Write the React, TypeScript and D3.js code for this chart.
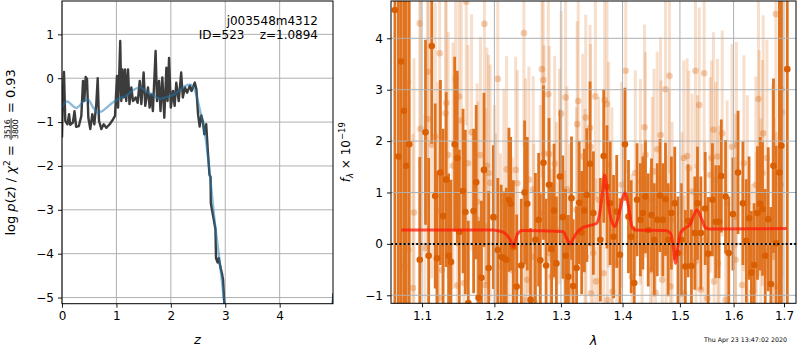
import React, { useRef, useEffect } from 'react';
import * as d3 from 'd3';

// ---- left panel: log p(z) ----
const pzZ = [0, 0.018, 0.037, 0.06, 0.1, 0.13, 0.15, 0.2, 0.23, 0.26, 0.31, 0.355, 0.386, 0.41, 0.435, 0.46, 0.484, 0.52, 0.557, 0.594,
  0.63, 0.656, 0.68, 0.723, 0.766, 0.815, 0.876, 0.937, 0.974, 1.01, 1.03, 1.048, 1.07, 1.09, 1.11, 1.134, 1.158, 1.18, 1.213, 1.24,
  1.274, 1.305, 1.354, 1.39, 1.428, 1.458, 1.5, 1.53, 1.58, 1.61, 1.64, 1.67, 1.72, 1.746, 1.783, 1.81, 1.844, 1.88, 1.918, 1.94,
  1.967, 2.0, 2.04, 2.07, 2.1, 2.145, 2.19, 2.22, 2.26, 2.3, 2.35, 2.38, 2.41, 2.44, 2.47, 2.5, 2.53, 2.56, 2.59, 2.616,
  2.65, 2.68, 2.71, 2.73, 2.735, 2.8, 2.82, 2.83, 2.86, 2.88, 2.91, 2.94, 2.96, 2.985, 3.0, 4.95, 4.99];
const pzLog = [-1.35, -0.29, 0.14, -0.97, -1.05, -0.82, -1.06, -1.01, -0.75, -1.11, -1.09, -0.86, -0.06, -0.52, 0.03, -0.02, -0.9, -1.16, -0.82, -1.05,
  -0.59, 0.0, -0.97, -1.16, -1.05, -1.13, -1.05, -0.94, -0.86, 0.05, -0.67, -0.06, 0.85, -0.52, 0.2, -0.44, 0.2, -0.52, 0.2, -0.59,
  -0.21, -0.52, -0.44, -0.56, -0.06, -0.59, 0.13, -0.63, -0.21, -0.67, -0.37, -0.75, 0.62, -0.52, -0.06, -0.75, 0.02, -0.9, 0.24, -0.52,
  0.46, -0.67, -0.29, -0.63, -0.1, -0.52, 0.13, -0.44, -0.21, -0.33, -0.17, -0.29, -0.2, -0.1, -0.25, -0.82, -1.1, -0.85, -1.0, -1.28,
  -1.05, -1.66, -2.2, -2.25, -2.85, -3.3, -3.45, -4.1, -4.2, -4.1, -4.3, -4.45, -4.6, -5.2, -5.6, -5.6, -4.9];

const pzSmoothZ = [0, 0.05, 0.1, 0.17, 0.26, 0.32, 0.4, 0.48, 0.57, 0.66, 0.75, 0.85, 0.94, 1.06, 1.18, 1.31, 1.43, 1.55, 1.67, 1.74,
  1.8, 1.92, 2.04, 2.16, 2.26, 2.35, 2.44, 2.53, 2.62, 2.71, 2.8, 2.9, 3.0, 3.05, 4.95, 4.99];
const pzSmoothLog = [-0.67, -0.56, -0.53, -0.6, -0.68, -0.63, -0.52, -0.49, -0.66, -0.79, -0.74, -0.64, -0.55, -0.46, -0.4, -0.27, -0.21, -0.3, -0.38, -0.44,
  -0.47, -0.43, -0.38, -0.28, -0.18, -0.15, -0.27, -0.7, -1.2, -2.1, -3.2, -4.2, -5.3, -5.8, -5.6, -4.9];

// ---- right panel: spectrum (flux in 1e-19) ----
const specWave = [1.0647, 1.0692, 1.0726, 1.0762, 1.0792, 1.0832, 1.097, 1.1046, 1.1088, 1.1129,
  1.1176, 1.1199, 1.1246, 1.1282, 1.1324, 1.1357, 1.1389, 1.144, 1.1476, 1.1504,
  1.1556, 1.1588, 1.1629, 1.1704, 1.174, 1.1774, 1.1815, 1.1851, 1.1917, 1.1986,
  1.2049, 1.2099, 1.2138, 1.2173, 1.2212, 1.2237, 1.2277, 1.2326, 1.2395, 1.2444,
  1.2484, 1.2533, 1.2607, 1.2656, 1.2681, 1.273, 1.277, 1.2815, 1.2855, 1.2893,
  1.2929, 1.2988, 1.3029, 1.3073, 1.3117, 1.3166, 1.3192, 1.3247, 1.3289, 1.3328,
  1.3371, 1.341, 1.3463, 1.3517, 1.3631, 1.3686, 1.374, 1.3793, 1.3849, 1.3902,
  1.3956, 1.404, 1.41, 1.4146, 1.4198, 1.4246, 1.4303, 1.4346, 1.4391, 1.4439,
  1.4496, 1.4544, 1.4596, 1.4644, 1.4696, 1.4742, 1.4789, 1.4847, 1.4907, 1.4965,
  1.5024, 1.5098, 1.5148, 1.5209, 1.5272, 1.532, 1.5383, 1.5463, 1.5519, 1.5598,
  1.5661, 1.5722, 1.5765, 1.5846, 1.5907, 1.5987, 1.6086, 1.618, 1.6246, 1.63,
  1.6346, 1.64, 1.6466, 1.652, 1.6566, 1.662, 1.668, 1.6734, 1.6786, 1.684,
  1.6906, 1.6946, 1.7067];
const specFlux = [4.55, 1.7, 3.55, 2.59, 1.52, 1.94, -0.31, 2.17, -0.23, 3.85,
  0.93, -0.28, 1.39, 0.54, 1.25, -0.23, -0.35, 1.94, 1.67, 0.23,
  1.03, 0.62, -1.15, 0.64, 1.2, -1.05, -0.66, 1.44, -0.47, 0.52,
  -0.12, -0.25, -0.28, -0.31, 0.86, 0.78, -0.06, -0.83, -0.42, 1.0,
  0.78, -1.09, 0.08, 0.47, -0.32, 1.58, -0.42, 1.15, -0.1, 0.65,
  -0.38, 1.31, 0.52, -0.23, -0.64, 0.89, -0.82, -0.47, 0.8, 0.22,
  0.65, 0.95, 1.56, 0.6, 0.08, 1.71, 1.11, 0.79, 0.14, 0.63,
  -0.21, 1.94, 0.53, 0.14, -0.76, 0.86, 0.47, 0.6, 0.92, 0.27,
  0.56, 0.08, 0.47, 0.94, 0.47, 0.87, 0.08, 0.6, 0.79, -0.18,
  0.08, -0.44, 0.45, -0.43, 0.21, 0.79, 0.21, 0.69, -0.19, 0.86,
  0.43, 0.43, 1.32, 0.92, -0.18, 0.58, 1.39, 0.79, 0.06, 0.5,
  -0.56, -0.41, 0.6, 0.78, 0.68, -0.23, 0.48, -0.78, 1.52, 0.01,
  1.39, 1.91, 3.4];
const specErr = [6, 6, 6, 6, 6, 5, 2.0, 1.8, 1.9, 1.9,
  1.8, 1.7, 1.8, 1.7, 1.7, 1.6, 1.6, 1.7, 1.7, 1.6,
  1.6, 1.6, 1.6, 1.6, 1.5, 1.5, 1.5, 1.5, 1.5, 1.4,
  1.4, 1.4, 1.3, 1.4, 1.4, 1.3, 1.3, 1.4, 1.3, 1.4,
  1.3, 1.4, 1.3, 1.3, 1.3, 1.5, 1.3, 1.3, 1.3, 1.3,
  1.3, 1.3, 1.2, 1.3, 1.2, 1.2, 1.3, 1.2, 1.2, 1.2,
  1.2, 1.3, 1.6, 1.2, 1.2, 1.3, 1.2, 1.2, 1.2, 1.1,
  1.1, 1.1, 1.1, 1.1, 1.1, 1.1, 1.1, 1.1, 1.1, 1.1,
  1.1, 1.1, 1.1, 1.1, 1.1, 1.1, 1.1, 1.1, 1.1, 1.1,
  1.1, 1.1, 1.1, 1.1, 1.1, 1.1, 1.1, 1.1, 1.1, 1.1,
  1.1, 1.1, 1.1, 1.1, 1.1, 1.1, 1.2, 1.2, 1.2, 1.2,
  1.2, 1.2, 1.3, 1.3, 1.3, 1.3, 1.4, 1.5, 1.7, 1.9,
  8, 8, 8];

// faint points (other beams)
const beamWave = [1.0771, 1.0815, 1.0821, 1.0881, 1.0894, 1.097, 1.098, 1.1038, 1.1074, 1.1083,
  1.1129, 1.1176, 1.1213, 1.1222, 1.1236, 1.1268, 1.1315, 1.1326, 1.1351, 1.1417,
  1.1454, 1.1476, 1.15, 1.1532, 1.1569, 1.1601, 1.1625, 1.1676, 1.1754, 1.1764,
  1.1801, 1.1857, 1.1868, 1.1875, 1.1893, 1.1917, 1.194, 1.2, 1.2015, 1.2049,
  1.2089, 1.2138, 1.2178, 1.2212, 1.2262, 1.2311, 1.2336, 1.2422, 1.2434, 1.2459,
  1.2484, 1.2508, 1.2573, 1.2582, 1.2592, 1.2681, 1.2706, 1.2726, 1.2741, 1.2804,
  1.2819, 1.2829, 1.2855, 1.2903, 1.2929, 1.2977, 1.3003, 1.3057, 1.3073, 1.3094,
  1.3138, 1.3146, 1.3244, 1.3257, 1.3273, 1.3345, 1.3382, 1.3393, 1.3398, 1.3463,
  1.3472, 1.348, 1.3512, 1.355, 1.3561, 1.3605, 1.3686, 1.3702, 1.374, 1.3748,
  1.3767, 1.3821, 1.3829, 1.3902, 1.3984, 1.4053, 1.4158, 1.4216, 1.4303, 1.4333,
  1.4374, 1.4391, 1.4479, 1.4509, 1.4538, 1.4567, 1.4596, 1.4654, 1.4663, 1.4684,
  1.4742, 1.4751, 1.4802, 1.4812, 1.483, 1.4859, 1.5037, 1.5069, 1.5074, 1.513,
  1.5161, 1.5222, 1.5283, 1.5291, 1.532, 1.5352, 1.5383, 1.5444, 1.5454, 1.5506,
  1.5556, 1.558, 1.5617, 1.563, 1.5661, 1.5691, 1.57, 1.5722, 1.5783, 1.5846,
  1.5876, 1.5969, 1.6034, 1.604, 1.6054, 1.6166, 1.62, 1.6266, 1.6366, 1.6434,
  1.644, 1.6486, 1.65, 1.6534, 1.6566, 1.658, 1.6654, 1.6766, 1.68, 1.6834,
  1.6844, 1.6934, 1.6946, 1.696];
const beamFlux = [-0.44, 3.14, -0.12, -0.86, 0.61, 4.29, 2.24, -0.08, 2.43, 3.35,
  1.93, 2.09, 0.65, -1.06, 3.71, -0.51, 2.54, 2.74, 1.73, 1.52,
  3.21, -0.81, 2.87, 2.4, -0.76, 4.71, 1.57, 2.17, 0.82, 0.47,
  1.73, 4.28, -0.8, 0.34, 1.52, 1.38, 1.19, 0.5, -0.05, 3.21,
  -0.44, 0.82, 1.45, 0.01, -0.52, 1.44, 1.18, -1.09, 4.1, 1.02,
  -0.7, 1.25, 1.06, -0.25, -1.12, 0.6, 3.4, 3.19, 1.76, 2.91,
  1.75, -0.18, -0.64, 1.56, 0.27, 1.31, 2.53, -0.57, 2.85, 1.06,
  -0.05, -0.93, 0.66, 2.33, 2.78, 1.7, 0.63, 2.46, -0.25, 2.26,
  1.89, -0.96, -0.18, 2.87, -0.73, 0.86, -0.57, 2.8, 2.72, -1.09,
  1.54, 0.66, -0.93, -0.38, 1.15, 3.37, -0.64, 1.38, 1.21, -0.05,
  2.27, 1.73, -0.51, 0.86, 1.41, -0.95, 1.84, 2.12, 1.28, -0.7,
  3.01, -0.18, 1.08, 3.27, -0.83, 0.47, 0.27, 1.67, -0.96, 1.71,
  1.47, 1.02, 3.37, -0.34, 0.99, 2.7, -0.89, 3.32, 0.08, -1.06,
  1.34, 1.67, 2.22, -0.73, 1.25, 1.7, -0.38, 0.4, 2.15, -1.09,
  0.79, 1.89, 0.53, -0.31, 1.93, -0.8, 1.57, 0.79, -0.93, 1.15,
  -0.41, 2.82, 1.57, 0.24, 1.38, 2.15, 1.67, 0.6, -0.25, 4.47,
  -0.83, 1.15, 3.01, 2.56];
const beamErr = [3.2, 3.2, 3.2, 3.0, 3.0, 2.8, 2.8, 2.6, 2.6, 2.6,
  2.6, 2.6, 2.5, 2.5, 2.5, 2.5, 2.5, 2.5, 2.4, 2.4,
  2.4, 2.4, 2.4, 2.4, 2.4, 2.4, 2.3, 2.3, 2.3, 2.3,
  2.3, 2.3, 2.3, 2.3, 2.3, 2.3, 2.3, 2.2, 2.2, 2.2,
  2.2, 2.2, 2.2, 2.2, 2.2, 2.2, 2.2, 2.2, 2.2, 2.2,
  2.2, 2.2, 2.2, 2.2, 2.2, 2.1, 2.1, 2.1, 2.1, 2.1,
  2.1, 2.1, 2.1, 2.1, 2.1, 2.1, 2.0, 2.0, 2.0, 2.0,
  2.0, 2.0, 2.0, 2.0, 2.0, 2.0, 2.0, 2.0, 2.0, 2.0,
  2.0, 2.0, 2.0, 2.0, 2.0, 2.0, 2.0, 2.0, 2.0, 2.0,
  2.0, 2.0, 2.0, 2.0, 2.0, 2.0, 2.0, 2.0, 2.0, 2.0,
  2.0, 2.0, 2.0, 2.0, 2.0, 2.0, 1.9, 1.9, 1.9, 1.9,
  1.9, 1.9, 1.9, 1.9, 1.9, 1.9, 1.9, 1.9, 1.9, 1.9,
  1.9, 1.9, 1.9, 1.9, 1.9, 1.9, 1.9, 1.9, 1.9, 1.9,
  1.9, 1.9, 1.9, 1.9, 1.9, 1.9, 1.9, 1.9, 2.0, 2.0,
  2.0, 2.0, 2.0, 2.0, 2.0, 2.1, 2.1, 2.1, 2.1, 2.1,
  2.2, 2.2, 2.2, 2.2, 2.2, 2.3, 2.3, 2.5, 2.7, 3.0,
  3.0, 3.2, 3.2, 3.2];

// best-fit model
const modelWave = [1.073, 1.199, 1.204, 1.2138, 1.2237, 1.2277, 1.2336, 1.241, 1.3029, 1.3111,
  1.315, 1.3192, 1.3273, 1.3354, 1.3463, 1.3572, 1.3605, 1.3659, 1.3702, 1.3767,
  1.3821, 1.3875, 1.393, 1.404, 1.41, 1.4158, 1.4216, 1.4742, 1.483, 1.4889,
  1.4917, 1.4965, 1.5006, 1.5098, 1.5191, 1.5254, 1.5309, 1.5402, 1.5463, 1.5524,
  1.7055];
const modelFlux = [0.27, 0.27, 0.26, 0.22, 0.06, -0.05, 0.19, 0.26, 0.24, 0.06,
  0.0, 0.1, 0.25, 0.32, 0.36, 0.4, 0.5, 0.92, 1.34, 0.73,
  0.43, 0.34, 0.53, 0.99, 0.73, 0.34, 0.27, 0.26, 0.21, -0.12,
  -0.38, -0.05, 0.21, 0.31, 0.39, 0.56, 0.66, 0.47, 0.32, 0.29,
  0.3];

const zTicks = [0, 1, 2, 3, 4];
const pzTicks = [1, 0, -1, -2, -3, -4, -5];
const waveTicks = [1.1, 1.2, 1.3, 1.4, 1.5, 1.6, 1.7];
const fluxTicks = [-1, 0, 1, 2, 3, 4];

const FONT = 'DejaVu Sans, sans-serif';
const ORANGE = '#d95f02';

const App = () => {
  const svgRef = useRef<SVGSVGElement>(null);

  useEffect(() => {
    const svg = d3.select(svgRef.current);
    svg.selectAll('*').remove();

    const styleAxis = (g: any) => {
      g.select('.domain').remove();
      g.selectAll('.tick line').attr('stroke', '#000').attr('stroke-width', 0.9);
      g.selectAll('.tick text').attr('font-size', 12).attr('font-family', FONT).attr('fill', '#000');
    };

    // ---------- left panel ----------
    const L = { left: 62, right: 333, top: 1, bottom: 303.7 };
    const xz = d3.scaleLinear().domain([0, 4.98]).range([L.left, L.right]);
    const yp = d3.scaleLinear().domain([-5.14, 1.76]).range([L.bottom, L.top]);

    svg.append('clipPath').attr('id', 'clipL').append('rect')
      .attr('x', L.left).attr('y', L.top).attr('width', L.right - L.left).attr('height', L.bottom - L.top);

    const gridL = svg.append('g').attr('stroke', '#b0b0b0').attr('stroke-width', 1);
    zTicks.forEach((t) => gridL.append('line').attr('x1', xz(t)).attr('x2', xz(t)).attr('y1', L.top).attr('y2', L.bottom));
    pzTicks.forEach((t) => gridL.append('line').attr('x1', L.left).attr('x2', L.right).attr('y1', yp(t)).attr('y2', yp(t)));

    const pzLine = d3.line<[number, number]>().x((d) => xz(d[0])).y((d) => yp(d[1]));
    const plotL = svg.append('g').attr('clip-path', 'url(#clipL)');
    plotL.append('path')
      .datum(d3.zip(pzZ, pzLog) as [number, number][])
      .attr('fill', 'none').attr('stroke', '#3c3c3c').attr('stroke-width', 2.4).attr('stroke-linejoin', 'round')
      .attr('d', pzLine);
    plotL.append('path')
      .datum(d3.zip(pzSmoothZ, pzSmoothLog) as [number, number][])
      .attr('fill', 'none').attr('stroke', '#1f77b4').attr('stroke-opacity', 0.5).attr('stroke-width', 2.4)
      .attr('d', pzLine.curve(d3.curveMonotoneX));

    svg.append('g').attr('transform', `translate(0,${L.bottom})`)
      .call(d3.axisBottom(xz).tickValues(zTicks).tickSize(4).tickPadding(4).tickFormat(d3.format('d')))
      .call(styleAxis);
    svg.append('g').attr('transform', `translate(${L.left},0)`)
      .call(d3.axisLeft(yp).tickValues(pzTicks).tickSize(4).tickPadding(4).tickFormat(d3.format('d')))
      .call(styleAxis);
    svg.append('rect').attr('x', L.left).attr('y', L.top).attr('width', L.right - L.left).attr('height', L.bottom - L.top)
      .attr('fill', 'none').attr('stroke', '#000').attr('stroke-width', 1);

    // annotation
    svg.append('text').attr('x', 318).attr('y', 25).attr('text-anchor', 'end')
      .attr('font-family', FONT).attr('font-size', 12).text('j003548m4312');
    svg.append('text').attr('x', 318).attr('y', 39).attr('text-anchor', 'end')
      .attr('font-family', FONT).attr('font-size', 12).style('white-space', 'pre').text('ID=523    z=1.0894');

    // x label
    svg.append('text').attr('x', (L.left + L.right) / 2).attr('y', 344).attr('text-anchor', 'middle')
      .attr('font-family', FONT).attr('font-size', 13).attr('font-style', 'italic').text('z');

    // y label with fraction
    const fs = 13;
    const gy = svg.append('g').attr('transform', `translate(15,${(L.top + L.bottom) / 2}) rotate(-90)`);
    const inner = gy.append('g').attr('font-family', FONT);
    const t1 = inner.append('text').attr('font-size', fs).style('white-space', 'pre');
    t1.append('tspan').text('log ');
    t1.append('tspan').attr('font-style', 'italic').text('p');
    t1.append('tspan').text('(');
    t1.append('tspan').attr('font-style', 'italic').text('z');
    t1.append('tspan').text(') / ');
    t1.append('tspan').attr('font-style', 'italic').text('χ');
    t1.append('tspan').attr('font-size', fs * 0.7).attr('dy', -fs * 0.42).text('2');
    t1.append('tspan').attr('dy', fs * 0.42).text(' = ');
    const w1 = (t1.node() as SVGTextElement).getComputedTextLength();
    const num = inner.append('text').attr('font-size', fs * 0.6).attr('text-anchor', 'middle').text('3516');
    const den = inner.append('text').attr('font-size', fs * 0.6).attr('text-anchor', 'middle').text('3800');
    const wf = Math.max((num.node() as SVGTextElement).getComputedTextLength(), (den.node() as SVGTextElement).getComputedTextLength()) + 2;
    const fx = w1 + 1;
    const axisY = -fs * 0.3;
    num.attr('x', fx + wf / 2).attr('y', axisY - 1.5);
    den.attr('x', fx + wf / 2).attr('y', axisY + fs * 0.6 * 0.73 + 1.5);
    inner.append('line').attr('x1', fx).attr('x2', fx + wf).attr('y1', axisY).attr('y2', axisY)
      .attr('stroke', '#000').attr('stroke-width', 0.8);
    const t3 = inner.append('text').attr('font-size', fs).style('white-space', 'pre').attr('x', fx + wf + 1).text(' = 0.93');
    const total = fx + wf + 1 + (t3.node() as SVGTextElement).getComputedTextLength();
    inner.attr('transform', `translate(${-total / 2},0)`);

    // ---------- right panel ----------
    const R = { left: 391, right: 796, top: 1, bottom: 303.3 };
    const xw = d3.scaleLog().domain([1.0597, 1.7247]).range([R.left, R.right]);
    const yf = d3.scaleLinear().domain([-1.156, 4.726]).range([R.bottom, R.top]);

    svg.append('clipPath').attr('id', 'clipR').append('rect')
      .attr('x', R.left).attr('y', R.top).attr('width', R.right - R.left).attr('height', R.bottom - R.top);
    const plotR = svg.append('g').attr('clip-path', 'url(#clipR)');

    const beam = d3.zip(beamWave, beamFlux, beamErr);
    const spec = d3.zip(specWave, specFlux, specErr);

    plotR.append('g').selectAll('line').data(beam).join('line')
      .attr('x1', (d) => xw(d[0])).attr('x2', (d) => xw(d[0]))
      .attr('y1', (d) => yf(d[1] - d[2])).attr('y2', (d) => yf(d[1] + d[2]))
      .attr('stroke', ORANGE).attr('stroke-opacity', 0.2).attr('stroke-width', 3);
    plotR.append('g').selectAll('circle').data(beam).join('circle')
      .attr('cx', (d) => xw(d[0])).attr('cy', (d) => yf(d[1])).attr('r', 3.3)
      .attr('fill', ORANGE).attr('fill-opacity', 0.3);

    plotR.append('g').selectAll('line').data(spec).join('line')
      .attr('x1', (d) => xw(d[0])).attr('x2', (d) => xw(d[0]))
      .attr('y1', (d) => yf(d[1] - d[2])).attr('y2', (d) => yf(d[1] + d[2]))
      .attr('stroke', '#e0731f').attr('stroke-width', 2.8);

    const gridR = plotR.append('g').attr('stroke', '#b0b0b0').attr('stroke-width', 1);
    waveTicks.forEach((t) => gridR.append('line').attr('x1', xw(t)).attr('x2', xw(t)).attr('y1', R.top).attr('y2', R.bottom));
    fluxTicks.forEach((t) => gridR.append('line').attr('x1', R.left).attr('x2', R.right).attr('y1', yf(t)).attr('y2', yf(t)));

    plotR.append('g').selectAll('circle').data(spec).join('circle')
      .attr('cx', (d) => xw(d[0])).attr('cy', (d) => yf(d[1])).attr('r', 3.3)
      .attr('fill', ORANGE);

    const modelLine = d3.line<[number, number]>().x((d) => xw(d[0])).y((d) => yf(d[1])).curve(d3.curveMonotoneX);
    plotR.append('path')
      .datum(d3.zip(modelWave, modelFlux) as [number, number][])
      .attr('fill', 'none').attr('stroke', '#ff1a0a').attr('stroke-opacity', 0.75).attr('stroke-width', 3)
      .attr('d', modelLine);

    plotR.append('line').attr('x1', R.left).attr('x2', R.right).attr('y1', yf(0)).attr('y2', yf(0))
      .attr('stroke', '#000').attr('stroke-width', 2).attr('stroke-dasharray', '2,2.2');

    svg.append('g').attr('transform', `translate(0,${R.bottom})`)
      .call(d3.axisBottom(xw).tickValues(waveTicks).tickSize(4).tickPadding(4).tickFormat(d3.format('.1f')))
      .call(styleAxis);
    svg.append('g').attr('transform', `translate(${R.left},0)`)
      .call(d3.axisLeft(yf).tickValues(fluxTicks).tickSize(4).tickPadding(4).tickFormat(d3.format('d')))
      .call(styleAxis);
    svg.append('rect').attr('x', R.left).attr('y', R.top).attr('width', R.right - R.left).attr('height', R.bottom - R.top)
      .attr('fill', 'none').attr('stroke', '#000').attr('stroke-width', 1);

    svg.append('text').attr('x', (R.left + R.right) / 2).attr('y', 345).attr('text-anchor', 'middle')
      .attr('font-family', FONT).attr('font-size', 13).attr('font-style', 'italic').text('λ');

    const fy = svg.append('text')
      .attr('transform', `translate(350,${(R.top + R.bottom) / 2}) rotate(-90)`)
      .attr('text-anchor', 'middle').attr('font-family', FONT).attr('font-size', 12).style('white-space', 'pre');
    fy.append('tspan').attr('font-style', 'italic').text('f');
    fy.append('tspan').attr('font-style', 'italic').attr('font-size', 8.5).attr('dy', 2.5).text('λ');
    fy.append('tspan').attr('dy', -2.5).text(' × 10');
    fy.append('tspan').attr('font-size', 8.5).attr('dy', -5).text('−19');

    // timestamp
    svg.append('text').attr('x', 787).attr('y', 342).attr('text-anchor', 'end')
      .attr('font-family', FONT).attr('font-size', 6.3).text('Thu Apr 23 13:47:02 2020');
  }, []);

  return (
    <svg ref={svgRef} width={800} height={350}
      style={{ position: 'absolute', left: 0, top: 0, background: '#fff' }} />
  );
};

export default App;
